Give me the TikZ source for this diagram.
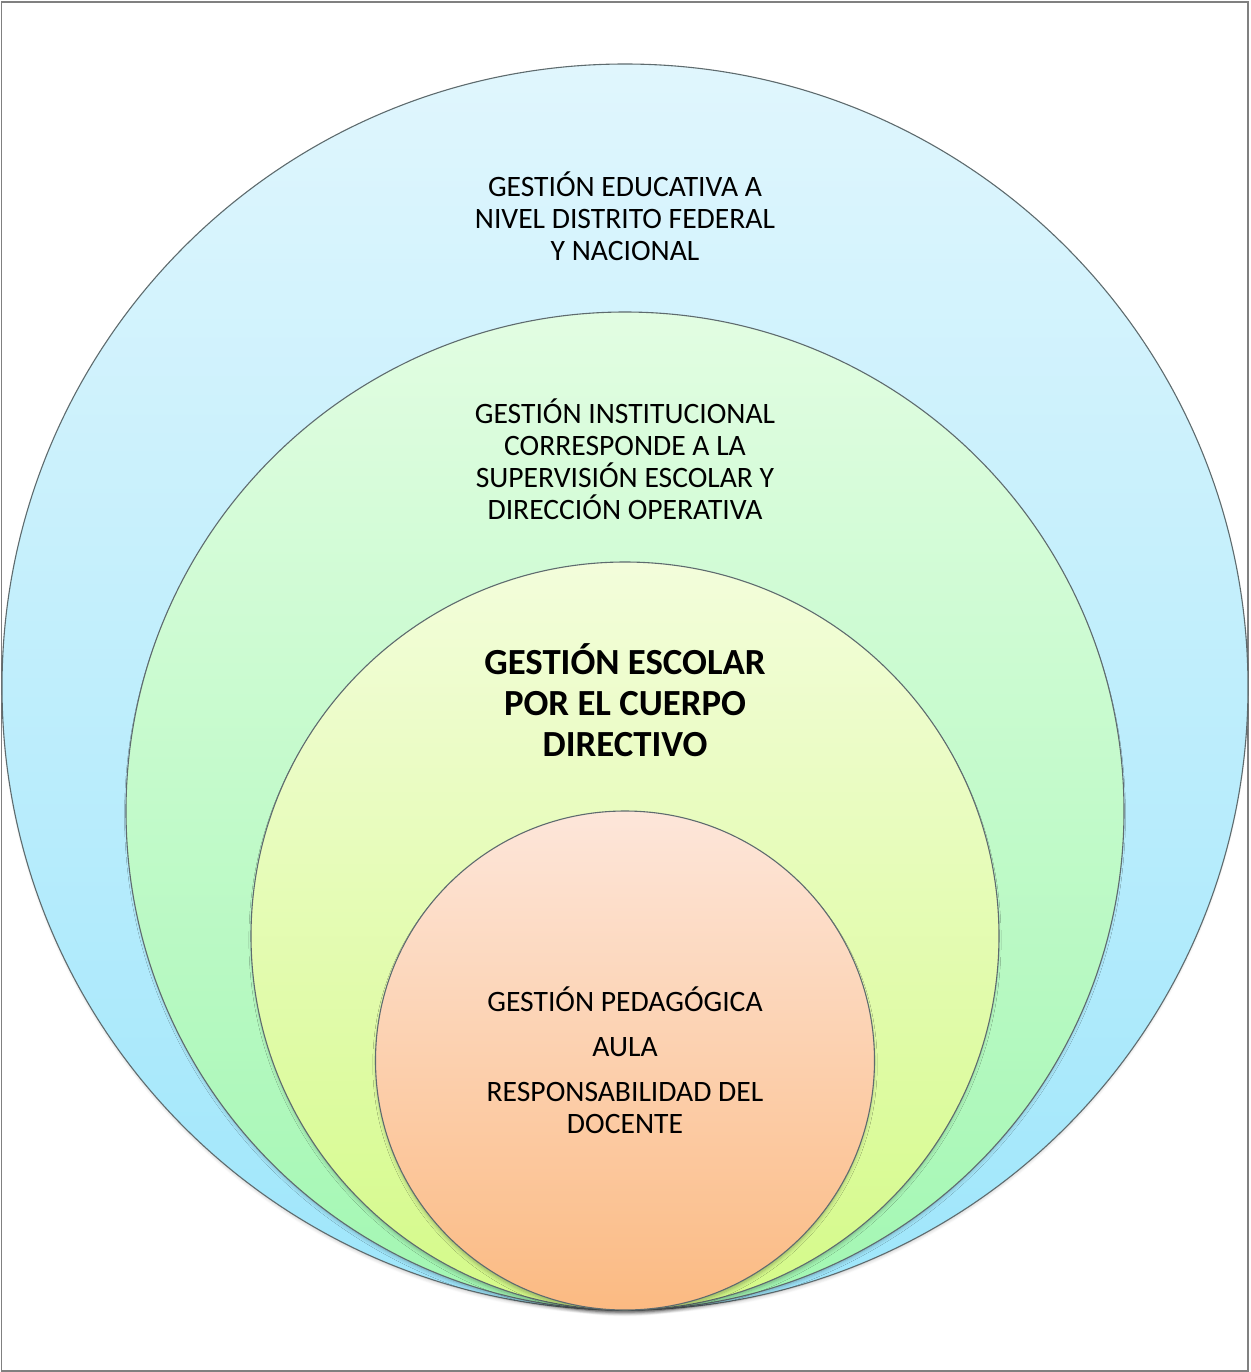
\documentclass[tikz,border=0pt]{standalone}
\usepackage{fontspec}
\setmainfont{Carlito}
\usetikzlibrary{shadows.blur}
\definecolor{bluetop}{HTML}{E0F6FD}
\definecolor{bluebot}{HTML}{9EE6FB}
\definecolor{greentop}{HTML}{E2FDE2}
\definecolor{greenbot}{HTML}{A2F7B2}
\definecolor{yellowtop}{HTML}{F3FDDB}
\definecolor{yellowbot}{HTML}{D4FA88}
\definecolor{orangetop}{HTML}{FDE6DA}
\definecolor{orangebot}{HTML}{FBBA82}
\definecolor{ringline}{HTML}{5E6B6E}
\tikzset{
  ring/.style={circle, draw=ringline, line width=0.55pt, inner sep=0pt,
    blur shadow={shadow xshift=0pt, shadow yshift=-2pt, shadow blur steps=6,
      shadow blur radius=2pt, shadow scale=0.995, shadow opacity=30}},
  label/.style={align=center, font=\fontsize{14.8pt}{16pt}\selectfont, text=black},
  boldlabel/.style={align=center, font=\fontsize{18.4pt}{20.5pt}\selectfont\bfseries, text=black}
}
\begin{document}
\begin{tikzpicture}[x=0.5pt, y=-0.5pt]
  \useasboundingbox (0,0) rectangle (1250,1372);
  \draw[draw=gray, line width=0.8pt] (1.5,2) rectangle (1248,1371);

  % nested circles, all touching at the bottom
  \node[ring, minimum size=623pt, top color=bluetop, bottom color=bluebot]
    (nivel) at (625,687) {};
  \node[ring, minimum size=499pt, top color=greentop, bottom color=greenbot]
    (institucional) at (625,811) {};
  \node[ring, minimum size=374pt, top color=yellowtop, bottom color=yellowbot]
    (escolar) at (625,936) {};
  \node[ring, minimum size=249.5pt, top color=orangetop, bottom color=orangebot]
    (pedagogica) at (625,1060.5) {};

  % texts
  \node[label] (t1) at (625,216) {GESTIÓN EDUCATIVA A\\NIVEL DISTRITO FEDERAL\\Y NACIONAL};
  \node[label] (t2) at (625,459) {GESTIÓN INSTITUCIONAL\\CORRESPONDE A LA\\SUPERVISIÓN ESCOLAR Y\\DIRECCIÓN OPERATIVA};
  \node[boldlabel] (t3) at (625,700) {GESTIÓN ESCOLAR\\POR EL CUERPO\\DIRECTIVO};
  \node[label] (t4) at (625,1060) {GESTIÓN PEDAGÓGICA\\[6.5pt]AULA\\[6.5pt]RESPONSABILIDAD DEL\\DOCENTE};
\end{tikzpicture}
\end{document}
